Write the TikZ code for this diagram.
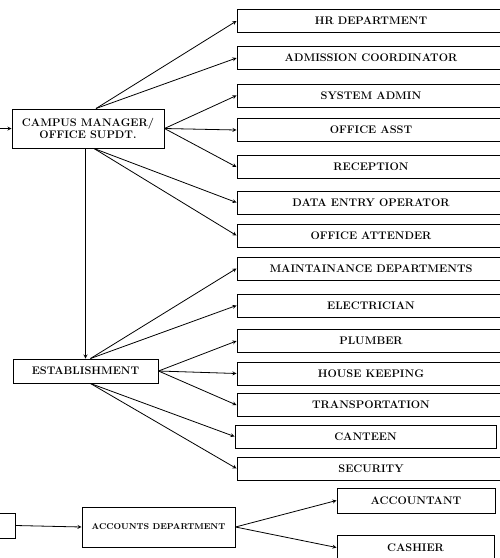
\documentclass[tikz,border=0pt]{standalone}
\usepackage{amsmath}
\usepackage{tikz}
\usetikzlibrary{arrows}
\tikzset{box/.style={draw=black, line width=1pt, inner sep=0pt, align=center,
  font=\fontsize{11}{12.5}\selectfont\bfseries},
%right hand boxes, open past the page edge
dept/.style={box, minimum width=268pt, minimum height=23pt},
link/.style={->, line width=0.8pt}}

\begin{document}
\begin{tikzpicture}[x=1pt,y=-1pt,>=stealth]
\useasboundingbox (0,0) rectangle (499,558);
% heads
\node[box, minimum width=152pt, minimum height=39pt] (campus) at (88,128.5) {CAMPUS MANAGER/\\OFFICE SUPDT.};
\node[box, minimum width=145pt, minimum height=24pt] (estab) at (85.5,371) {ESTABLISHMENT};
\node[box, minimum width=153pt, minimum height=40pt, font=\fontsize{8.5}{10}\selectfont\bfseries] (accdept) at (158.5,527) {ACCOUNTS DEPARTMENT};
\node[box, minimum width=60pt, minimum height=25pt] (prev) at (-15,525.5) {};
\coordinate (in) at (-5,128.5);

% office side
\foreach \n/\t/\y in {hr/HR DEPARTMENT/21, adm/ADMISSION COORDINATOR/58,
  sysadm/SYSTEM ADMIN/95.5, asst/OFFICE ASST/130, recep/RECEPTION/167,
  dataop/DATA ENTRY OPERATOR/202.5, attend/OFFICE ATTENDER/235.5}
  \node[dept] (\n) at (371,\y) {\t};

% establishment side
\foreach \n/\t/\y in {maint/MAINTAINANCE DEPARTMENTS/268.5, elec/ELECTRICIAN/305.5,
  plumb/PLUMBER/341, house/HOUSE KEEPING/373.5, trans/TRANSPORTATION/405,
  secur/SECURITY/468.5}
  \node[dept] (\n) at (371,\y) {\t};
\node[dept, minimum width=261pt] (canteen) at (365.5,436.5) {CANTEEN};

% accounts side
\node[box, minimum width=158pt, minimum height=25pt] (accnt) at (416,500.5) {ACCOUNTANT};
\node[box, minimum width=157pt, minimum height=25pt] (cash) at (415.5,547.5) {CASHIER};

%links
\draw[link] (in) -- (campus.west);
\foreach \n in {hr,adm}
  \draw[link] ([xshift=8pt]campus.north) -- (\n.west);
\foreach \n in {sysadm,asst,recep}
  \draw[link] (campus.east) -- (\n.west);
\foreach \n in {dataop,attend}
  \draw[link] ([xshift=6pt]campus.south) -- (\n.west);
\draw[link] (estab.north |- campus.south) -- (estab.north);

\foreach \n in {maint,elec}
  \draw[link] ([xshift=5pt]estab.north) -- (\n.west);
\foreach \n in {plumb,house,trans}
  \draw[link] (estab.east) -- (\n.west);
\foreach \n in {canteen,secur}
  \draw[link] ([xshift=5pt]estab.south) -- (\n.west);

\draw[link] (prev.east) -- (accdept.west);
\draw[link] (accdept.east) -- (accnt.west);
\draw[link] (accdept.east) -- (cash.west);

\end{tikzpicture}
\end{document}
